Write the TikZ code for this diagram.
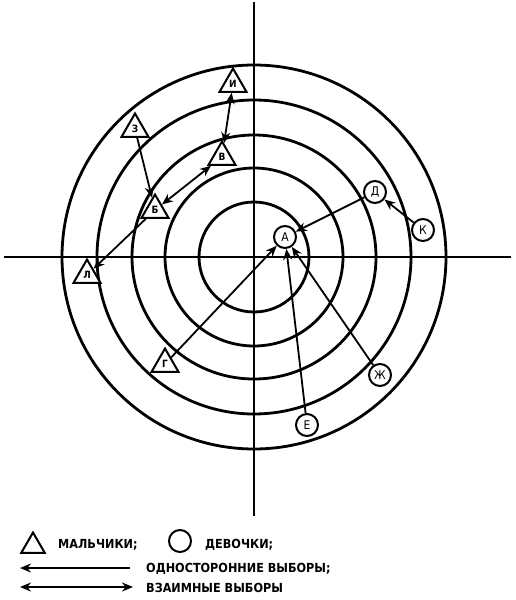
\documentclass[tikz,border=0pt]{standalone}
\usepackage{fontspec}
\setmainfont{DejaVu Sans}
\newfontfamily\condf{DejaVu Sans Condensed}
\usetikzlibrary{shapes.geometric,arrows.meta}
\begin{document}
\begin{tikzpicture}[x=1pt,y=-1pt,
  ring/.style={line width=2.8pt},
  axis/.style={line width=2.5pt},
  girl/.style={circle,draw,fill=white,line width=2pt,minimum size=22pt,inner sep=0pt,font=\condf\fontsize{12}{12}\selectfont},
  boy/.style={regular polygon,regular polygon sides=3,draw,fill=white,line width=2pt,minimum size=31pt,inner sep=0pt,font=\condf\fontsize{10}{10}\selectfont\bfseries},
  one/.style={line width=1.8pt,-{Stealth[length=11pt,width=9pt]}},
  both/.style={line width=1.8pt,{Stealth[length=11pt,width=9pt]}-{Stealth[length=11pt,width=9pt]}},
  lbl/.style={anchor=west,inner sep=0pt,font=\condf\fontsize{12.5}{12.5}\selectfont\bfseries}
]
\useasboundingbox (0,0) rectangle (515,600);
\coordinate (O) at (254,257);
\foreach \r in {55,89,122,157,192} \draw[ring] (O) circle (\r);
\coordinate (axL) at (4,257);
\coordinate (axR) at (511,257);
\coordinate (axT) at (254,2);
\coordinate (axB) at (254,516);
\draw[axis] (axL) -- (axR);
\draw[axis] (axT) -- (axB);
% girls
\node[girl] (A) at (285,237) {А};
\node[girl] (D) at (375,192) {Д};
\node[girl] (K) at (423,230) {К};
\node[girl] (Zh) at (380,375) {Ж};
\node[girl] (E) at (307,425) {Е};
% boys
\node[boy] (I) at (233,84) {И};
\node[boy] (Z) at (135,129) {З};
\node[boy] (V) at (222,157) {В};
\node[boy] (B) at (155,210) {Б};
\node[boy] (L) at (87,275) {Л};
\node[boy] (G) at (165,364) {Г};
% choices
\draw[one] (D) -- (A);
\draw[one] (K) -- (D);
\draw[one] (Zh) -- (A);
\draw[one] (E) -- (A);
\draw[one] (G) -- (A);
\draw[one] (B) -- (L);
\draw[one] (Z) -- (B);
\draw[both] (B) -- (V);
\draw[both] (V) -- (I);
% legend
\node[regular polygon,regular polygon sides=3,draw,line width=2pt,minimum size=27pt,inner sep=0pt] (lt) at (33,546) {};
\node[lbl] (lm) at (58,545) {МАЛЬЧИКИ;};
\node[circle,draw,line width=2pt,minimum size=22pt,inner sep=0pt] (lc) at (180,541) {};
\node[lbl] (ld) at (205,545) {ДЕВОЧКИ;};
\coordinate (a1s) at (130,568);
\coordinate (a1e) at (20,568);
\draw[one] (a1s) -- (a1e);
\node[lbl] (lo) at (146,569) {ОДНОСТОРОННИЕ ВЫБОРЫ;};
\coordinate (a2s) at (20,587);
\coordinate (a2e) at (133,587);
\draw[both] (a2s) -- (a2e);
\node[lbl] (lv) at (146,588) {ВЗАИМНЫЕ ВЫБОРЫ};
\end{tikzpicture}
\end{document}
